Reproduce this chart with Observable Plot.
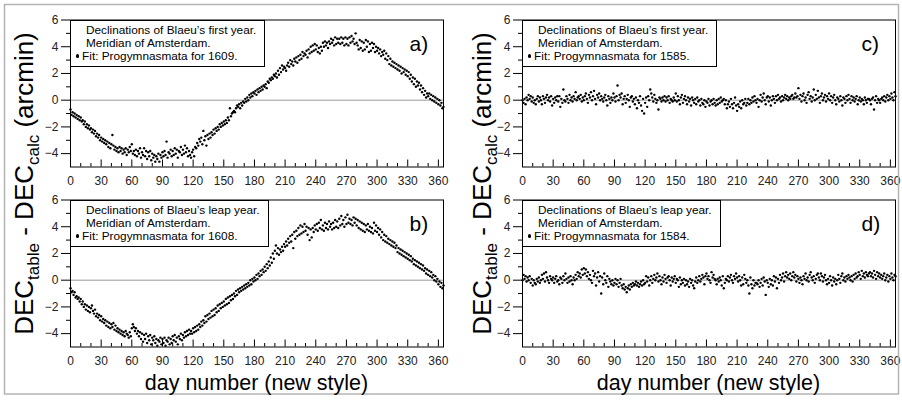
<!DOCTYPE html>
<html>
<head>
<meta charset="utf-8">
<script src="https://cdn.jsdelivr.net/npm/d3@7"></script>
<script src="https://cdn.jsdelivr.net/npm/@observablehq/plot@0.6"></script>
<style>
  body { margin: 0; background: #fff; }
  #chart { position: relative; width: 902px; height: 401px; font-family: "Liberation Sans", Arial, sans-serif; }
  #chart > svg.panel { position: absolute; }
  .legend { position: absolute; box-sizing: border-box; border: 1px solid #000; background: #fff;
            font-size: 11.8px; line-height: 13.3px; padding: 3px 8px 0 0; white-space: nowrap; color: #000; }
  .legend .l { padding-left: 15px; }
  .legend .b { padding-left: 4.5px; }
  .legend .dot { display: inline-block; width: 3.6px; height: 3.6px; border-radius: 50%; background: #000;
                 vertical-align: middle; margin-right: 3px; position: relative; top: -1px; }
  #overlay { position: absolute; left: 0; top: 0; pointer-events: none; }
</style>
</head>
<body>
<div id="chart"></div>
<script>
// ---- data (arcmin), one value per day 0..365 ----
const panelA = [
-0.7,-1.1,-0.9,-1.2,-1.0,-1.3,-1.1,-1.4,-1.2,-1.5,
-1.3,-1.6,-1.5,-1.8,-1.6,-2.0,-1.8,-2.1,-1.9,-2.2,
-2.1,-2.4,-2.2,-2.5,-2.3,-2.7,-2.5,-2.8,-2.6,-3.0,
-2.8,-3.1,-2.9,-3.2,-3.0,-3.3,-3.1,-3.5,-3.2,-3.6,
-3.3,-2.6,-3.4,-3.7,-3.5,-3.8,-3.6,-3.9,-3.5,-3.8,
-3.6,-4.0,-3.7,-3.9,-3.6,-4.1,-3.7,-3.9,-3.5,-3.8,
-3.3,-4.0,-3.8,-4.1,-3.7,-4.2,-3.8,-4.0,-3.6,-4.3,
-3.9,-4.1,-3.6,-4.2,-3.8,-4.4,-3.9,-4.2,-3.8,-4.5,
-4.0,-4.3,-4.1,-4.6,-4.2,-4.4,-4.0,-4.6,-4.1,-4.3,
-3.9,-4.2,-3.8,-4.1,-3.1,-4.3,-3.9,-4.0,-3.7,-4.2,
-3.8,-4.1,-3.6,-4.0,-3.7,-4.3,-3.8,-3.9,-3.5,-4.1,
-3.7,-4.0,-3.4,-3.9,-3.6,-4.2,-3.8,-4.1,-4.3,-3.9,
-3.7,-4.2,-3.5,-3.6,-3.2,-3.4,-2.9,-3.1,-2.8,-3.3,
-2.3,-3.0,-2.7,-3.4,-2.6,-2.9,-2.5,-2.8,-2.4,-2.6,
-2.2,-2.5,-2.1,-2.3,-2.0,-2.2,-1.8,-2.0,-1.7,-1.9,
-1.6,-1.8,-1.5,-1.7,-1.3,-1.5,-0.6,-1.2,-1.0,-0.9,
-0.8,-0.9,-0.6,-0.4,-0.5,-0.3,-0.6,-0.2,-0.4,-0.1,
-0.2,0.1,-0.1,0.2,0.0,0.4,0.2,0.5,0.3,0.6,
0.5,0.7,0.4,0.8,0.6,0.9,0.7,1.0,0.8,1.1,
1.0,1.2,0.9,1.4,1.3,1.6,1.5,1.7,1.6,1.9,
1.8,2.0,1.7,2.2,1.9,2.4,2.1,2.6,2.3,2.5,
2.4,2.2,2.6,2.8,2.5,3.0,2.7,2.9,2.6,3.1,
2.9,3.2,2.8,3.3,3.0,3.4,3.1,3.6,3.3,3.5,
3.4,3.7,3.2,3.8,3.5,4.0,3.6,4.1,3.7,4.2,
3.8,4.1,3.6,3.9,3.5,4.0,3.7,4.3,4.0,4.4,
4.1,4.3,3.9,4.4,4.2,4.6,4.3,4.5,4.1,4.7,
4.2,4.6,4.3,4.6,4.2,4.7,4.3,4.6,4.1,4.7,
4.2,4.6,4.1,4.7,4.3,4.8,4.4,4.6,4.2,5.0,
4.3,4.1,3.8,4.5,3.9,4.4,3.7,4.3,3.8,4.5,
4.0,4.4,3.6,4.2,3.7,4.3,3.9,4.2,3.6,4.0,
3.7,3.9,3.5,3.8,3.3,3.6,3.4,3.7,3.1,3.5,
3.0,3.3,2.7,3.1,2.6,2.9,2.5,2.8,2.4,2.7,
2.3,2.6,2.2,2.5,2.0,2.4,2.1,2.3,1.9,2.2,
1.8,2.1,1.6,1.9,1.4,1.7,1.2,1.6,1.0,1.4,
1.1,1.3,0.8,1.1,0.6,0.9,0.4,0.7,0.2,0.5,
0.3,0.5,0.1,0.4,0.0,0.3,-0.1,0.2,-0.2,0.1,
-0.3,0.0,-0.4,-0.2,-0.6,-0.5
];
const panelB = [
-0.6,-0.9,-0.8,-1.1,-0.9,-1.3,-1.2,-1.4,-1.3,-1.6,
-1.4,-1.8,-1.6,-2.0,-1.8,-2.2,-1.9,-2.3,-2.0,-2.4,
-2.1,-1.9,-2.3,-2.5,-2.2,-2.7,-2.5,-2.8,-2.6,-3.0,
-2.7,-3.1,-2.9,-3.2,-3.0,-3.4,-3.1,-3.5,-3.2,-3.6,
-3.3,-3.5,-3.2,-3.7,-3.4,-3.8,-3.6,-3.9,-3.7,-4.0,
-3.8,-4.1,-3.9,-4.2,-3.8,-4.0,-4.1,-4.3,-3.9,-4.2,
-3.6,-3.3,-3.5,-3.8,-3.6,-4.0,-3.8,-4.2,-3.9,-4.4,
-4.0,-4.6,-4.1,-4.4,-4.0,-4.7,-4.2,-4.5,-4.1,-4.8,
-4.3,-4.5,-4.2,-4.7,-4.4,-4.9,-4.5,-4.6,-4.3,-4.8,
-4.4,-4.7,-4.3,-4.9,-4.5,-4.6,-4.3,-4.8,-4.4,-4.7,
-4.2,-4.5,-4.1,-4.6,-4.3,-4.8,-4.2,-4.4,-4.0,-4.5,
-4.1,-4.3,-3.9,-4.2,-3.8,-4.1,-3.7,-4.0,-3.8,-4.0,
-3.6,-3.9,-3.5,-3.8,-3.4,-3.7,-3.3,-3.5,-3.1,-3.4,
-3.0,-3.2,-2.7,-3.1,-2.6,-2.9,-2.5,-2.8,-2.3,-2.7,
-2.2,-2.6,-2.1,-2.4,-1.9,-2.3,-1.8,-2.1,-1.7,-2.0,
-1.6,-1.9,-1.4,-1.8,-1.3,-1.7,-1.2,-1.5,-1.1,-1.4,
-1.0,-1.2,-0.8,-1.1,-0.7,-0.9,-0.6,-0.8,-0.5,-0.7,
-0.4,-0.6,-0.3,-0.5,-0.2,-0.4,0.0,-0.3,0.1,-0.1,
0.2,0.0,0.4,0.1,0.5,0.3,0.7,0.4,0.8,0.6,
1.0,0.7,1.2,0.9,1.4,1.1,1.7,1.3,2.0,1.6,
2.2,2.6,2.0,2.4,1.9,2.3,2.1,2.5,2.2,2.7,
2.5,2.9,2.6,3.1,2.8,3.3,2.9,3.4,2.4,3.6,
3.1,3.7,3.3,3.9,3.4,4.1,3.5,4.0,3.6,4.2,
3.7,4.0,3.4,3.9,3.0,3.8,3.2,3.9,3.6,4.1,
3.8,4.2,3.7,4.3,3.9,4.5,3.8,4.1,3.7,4.3,
3.9,4.2,3.8,4.4,4.0,4.2,3.8,4.3,3.9,4.5,
4.0,4.4,3.9,4.6,4.1,4.8,4.2,4.5,4.0,4.7,
4.2,4.9,4.3,4.6,4.2,4.5,4.1,4.7,4.3,4.6,
4.1,4.5,3.9,4.4,3.8,4.3,3.7,4.2,3.6,4.1,
3.8,4.2,3.7,4.0,3.6,3.9,3.5,4.3,3.7,4.1,
3.6,3.9,3.4,3.8,3.2,3.6,3.0,3.4,2.9,3.3,
2.8,3.1,2.7,3.0,2.6,2.9,2.5,2.8,2.4,2.6,
2.1,2.4,2.0,2.3,1.9,2.2,1.8,2.1,1.7,2.0,
1.6,1.9,1.5,1.8,1.4,1.6,1.2,1.5,1.1,1.4,
1.0,1.3,0.9,1.2,0.8,1.1,0.7,0.9,0.5,0.8,
0.4,0.7,0.3,0.6,0.2,0.4,0.0,0.3,-0.1,0.1,
-0.3,-0.1,-0.5,-0.2,-0.6,-0.4
];
const panelC = [
0.0,-0.2,0.1,-0.3,0.2,0.0,0.4,0.1,0.3,-0.1,
0.2,-0.2,0.0,-0.3,0.1,0.3,-0.1,0.2,0.0,-0.3,
0.3,0.1,-0.2,0.2,0.4,0.0,0.2,-0.1,0.3,-0.4,
0.1,-0.2,0.2,0.0,0.3,-0.1,0.3,-0.5,0.1,-0.2,
0.8,0.0,-0.1,0.3,0.1,-0.2,0.4,0.0,0.2,-0.1,
0.3,0.1,0.6,0.0,0.2,0.3,0.1,0.4,-0.1,0.2,
0.0,0.3,0.5,0.1,-0.2,0.4,0.2,0.6,0.0,0.3,
0.7,0.1,-0.3,0.4,0.2,0.5,0.0,0.3,0.1,-0.1,
0.2,0.4,0.0,-0.4,0.3,0.1,-0.2,0.2,0.0,0.5,
0.2,-0.1,0.3,1.1,0.0,0.4,0.2,0.5,-0.3,0.1,
0.3,-0.2,0.1,0.4,0.0,-0.5,0.2,0.3,-0.1,0.1,
-0.3,0.2,-0.6,0.0,-0.2,0.3,-0.4,-0.8,0.1,-1.0,
-0.2,0.2,-0.5,0.3,0.0,0.8,0.5,0.2,-0.1,0.4,
0.1,-0.2,0.0,-0.7,0.2,0.1,-0.1,0.2,0.0,0.3,
-0.1,0.2,0.0,0.3,-0.2,0.1,0.0,-0.1,0.2,0.0,
0.5,-0.1,0.3,0.0,-0.3,0.2,0.4,-0.2,0.1,0.3,
0.0,-0.3,0.2,-0.1,0.1,-0.4,0.2,0.0,-0.2,0.1,
-0.3,0.2,-0.1,0.0,-0.4,0.1,-0.2,-0.3,0.0,-0.5,
-0.1,-0.2,0.1,-0.4,-0.1,0.0,-0.3,0.1,-0.2,-0.4,
0.0,-0.3,0.1,-0.2,0.2,-0.1,0.0,0.1,-0.3,0.0,
-0.6,-0.3,-0.1,-0.5,0.1,-0.3,-0.6,-0.2,0.2,-0.4,
-0.8,-0.3,-0.5,-0.1,-0.6,0.0,-0.3,-0.2,0.1,-0.4,
-0.2,0.1,-0.3,0.0,-0.2,0.2,-0.1,0.3,0.0,-0.2,
0.1,-0.5,0.0,0.4,-0.1,0.2,0.5,0.0,-0.3,0.2,
0.3,-0.1,0.2,-0.4,0.0,0.3,0.1,-0.2,0.3,0.0,
0.4,0.1,0.2,-0.1,0.3,0.0,0.2,0.4,0.1,0.3,
0.0,0.2,0.1,0.3,0.4,0.1,0.2,0.5,0.2,0.3,
0.9,0.1,0.4,-0.1,0.3,0.5,0.0,0.2,-0.2,0.4,
0.6,0.1,0.3,-0.1,0.2,0.8,0.0,0.4,0.1,0.7,
0.2,-0.2,0.3,0.5,0.0,0.2,0.4,-0.1,0.3,0.1,
0.5,0.0,0.3,-0.2,0.2,0.4,0.0,-0.3,0.2,0.1,
-0.1,0.3,0.0,-0.4,0.2,0.1,-0.2,0.3,0.0,0.4,
0.1,-0.2,0.3,0.0,0.2,-0.1,0.1,0.3,-0.3,0.0,
0.2,-0.1,0.1,0.0,-0.3,0.2,0.0,-0.2,0.1,0.1,
0.0,-0.3,0.1,0.2,-0.7,0.0,0.3,-0.2,0.1,0.0,
-0.2,0.1,0.2,0.0,0.3,-0.1,0.2,0.4,0.0,0.3,
0.1,0.5,0.2,0.0,0.6,0.3
];
const panelD = [
0.0,0.4,0.1,0.3,-0.1,0.2,0.0,0.3,-0.2,0.1,
-0.4,0.0,-0.2,-0.3,0.1,-0.1,0.2,-0.2,0.0,0.4,
0.1,0.5,-0.1,0.6,0.2,0.0,-0.2,0.3,0.1,0.0,
0.2,-0.2,0.1,0.3,-0.1,0.0,-0.3,0.2,0.1,-0.2,
0.3,0.0,0.5,0.1,-0.2,0.2,-0.1,0.3,0.0,-0.3,
0.2,0.0,0.4,0.1,0.6,0.3,0.5,0.2,0.8,0.4,
0.9,0.5,0.8,0.3,0.6,0.1,0.4,0.0,-0.2,0.7,
0.3,0.5,-0.4,0.2,0.6,-0.1,0.3,-1.0,0.2,-0.3,
0.5,0.0,-0.2,0.3,-0.5,0.1,-0.1,-0.3,0.0,-0.4,
-0.2,0.1,-0.3,0.0,-0.5,-0.2,0.1,-0.4,-0.6,-0.3,
-0.7,-0.5,-0.9,-0.6,-0.4,-0.7,-0.3,-0.5,-0.2,-0.4,
-0.3,-0.1,-0.4,-0.2,-0.5,-0.3,-0.1,-0.4,0.0,-0.3,
-0.2,0.3,-0.1,0.2,-0.4,0.0,0.3,-0.2,0.1,0.4,
0.0,0.2,0.5,-0.1,0.3,0.0,-0.3,0.2,-0.1,0.4,
0.1,-0.2,0.2,0.3,0.0,-0.4,0.2,-0.1,0.1,0.3,
-0.2,0.1,0.0,-0.5,0.2,-0.3,0.0,-0.2,0.1,-0.4,
0.0,-0.3,-0.1,-0.5,0.1,-0.2,0.0,-0.4,-0.6,-0.1,
0.2,-0.2,0.0,0.3,-0.1,0.1,0.4,0.2,-0.3,0.3,
0.5,0.1,0.3,0.0,-0.2,0.6,0.2,0.4,0.1,0.0,
-0.3,0.1,-0.1,0.2,0.0,-0.4,0.3,-0.6,-0.2,0.1,
0.0,0.3,-0.1,0.2,0.4,0.0,-0.2,0.3,0.1,0.5,
0.2,-0.1,0.3,0.0,-0.4,0.2,-0.3,0.4,0.1,-0.2,
0.0,-0.4,-1.0,0.2,-0.3,-0.6,0.0,-0.4,-0.2,-0.2,
-0.3,0.0,-0.5,-0.2,0.1,-0.4,0.2,-0.1,-1.1,0.0,
-0.2,-0.5,0.1,-0.3,0.0,-0.4,0.3,-0.1,0.2,-0.6,
0.1,-0.2,0.4,0.0,0.2,0.5,-0.1,0.3,0.6,0.2,
0.4,0.1,0.5,0.0,0.3,0.6,0.2,0.4,-0.1,0.3,
0.1,-0.2,0.2,0.0,-0.3,0.3,0.1,0.5,0.0,0.2,
-0.1,0.4,0.6,0.2,0.0,0.3,-0.2,0.1,0.4,0.5,
0.2,0.0,0.5,0.3,-0.1,0.2,0.4,0.0,-0.3,0.1,
-0.2,0.3,0.0,-0.4,0.2,-0.1,0.1,-0.3,0.0,0.4,
0.1,-0.2,0.3,0.5,0.0,0.2,-0.1,0.3,0.1,0.4,
0.2,0.0,0.3,-0.1,0.4,0.1,0.5,0.2,0.3,0.6,
0.4,0.1,0.7,0.3,0.5,0.2,0.6,0.4,0.3,0.5,
0.6,0.3,0.5,0.2,0.7,0.4,0.1,0.6,0.3,0.5,
0.2,0.4,0.1,0.3,0.5,0.0,0.2,0.4,-0.1,0.3,
0.1,0.5,0.2,0.0,0.4,0.3
];

const xMajorTicks = [0, 30, 60, 90, 120, 150, 180, 210, 240, 270, 300, 330, 360];
const xMinorTicks = [10, 20, 40, 50, 70, 80, 100, 110, 130, 140, 160, 170, 190, 200, 220, 230, 250, 260, 280, 290, 310, 320, 340, 350];
const yMajorTicks = [-4, -2, 0, 2, 4, 6];
const yMinorTicks = [-3, -1, 1, 3, 5];

const panelLabels = ["a)", "b)", "c)", "d)"];
const legendLine1 = ["Declinations of Blaeu\u2019s first year.", "Declinations of Blaeu\u2019s leap year.",
                     "Declinations of Blaeu\u2019s first year.", "Declinations of Blaeu\u2019s leap year."];
const legendLine2 = "Meridian of Amsterdam.";
const fitYears = ["1609", "1608", "1585", "1584"];
const yTitle = {main1: "DEC", sub1: "table", mid: " - DEC", sub2: "calc", tail: " (arcmin)"};
const xTitle = "day number (new style)";

// ---- layout ----
const W = 451, H = 195, mL = 70, mR = 8, mT = 19.5, mB = 28.5;
const PH = H - mT - mB;
const positions = [[0, 0], [0, 180], [452, 0], [452, 180]];
const series = [panelA, panelB, panelC, panelD];

const chart = document.getElementById("chart");

series.forEach((vals, i) => {
  const data = vals.map((v, d) => ({day: d, v}));
  const [left, top] = positions[i];
  const p = Plot.plot({
    width: W, height: H,
    marginLeft: mL, marginRight: mR, marginTop: mT, marginBottom: mB,
    x: {domain: [0, 365], label: null},
    y: {domain: [-5, 6], label: null},
    style: {fontFamily: "'Liberation Sans', Arial, sans-serif", fontSize: "12px", color: "#000", background: "transparent", overflow: "visible"},
    marks: [
      Plot.ruleY([0], {stroke: "#9a9a9a", strokeWidth: 1}),
      Plot.dot(data, {x: "day", y: "v", r: 1.2, fill: "#000", stroke: "none"}),
      Plot.tickX(xMinorTicks, {x: d => d, insetTop: PH - 3.5, stroke: "#000"}),
      Plot.tickX(xMajorTicks, {x: d => d, insetTop: PH - 7, stroke: "#000"}),
      Plot.axisX({ticks: xMajorTicks, tickSize: 0, tickPadding: 9, fontSize: 12, fill: "#222"}),
      Plot.axisY({ticks: yMajorTicks, tickSize: 9, tickPadding: 3, fontSize: 12, fill: "#222"}),
      Plot.axisY({ticks: yMinorTicks, tickSize: 4, tickFormat: () => ""}),
      Plot.frame({stroke: "#000"}),
      Plot.text([panelLabels[i]], {frameAnchor: "top-right", text: d => d, dx: -34, dy: 24,
                                   textAnchor: "start", lineAnchor: "middle", fontSize: 21})
    ]
  });
  p.classList.add("panel");
  p.style.left = left + "px";
  p.style.top = top + "px";
  chart.appendChild(p);

  // legend box
  const lg = document.createElement("div");
  lg.className = "legend";
  lg.style.left = (left + mL) + "px";
  lg.style.top = (top + mT) + "px";
  lg.style.height = "47px";
  lg.innerHTML = `<div class="l">${legendLine1[i]}</div><div class="l">${legendLine2}</div>` +
                 `<div class="b"><span class="dot"></span>Fit: Progymnasmata for ${fitYears[i]}.</div>`;
  chart.appendChild(lg);
});

// ---- overlay: border and axis titles ----
const svg = d3.select("#chart").append("svg").attr("id", "overlay").attr("width", 902).attr("height", 401);
svg.append("rect").attr("x", 4.5).attr("y", 4.5).attr("width", 894).attr("height", 389.5)
  .attr("fill", "none").attr("stroke", "#b4b4b4").attr("stroke-width", 1.5);

[33, 491].forEach(x => {
  const t = svg.append("text")
    .attr("transform", `translate(${x},183.5) rotate(-90)`)
    .attr("text-anchor", "middle")
    .attr("font-family", "'Liberation Sans', Arial, sans-serif")
    .attr("font-size", 26).attr("fill", "#000");
  t.append("tspan").text(yTitle.main1);
  t.append("tspan").attr("font-size", 17).attr("dy", 6).text(yTitle.sub1);
  t.append("tspan").attr("dy", -6).text(yTitle.mid);
  t.append("tspan").attr("font-size", 17).attr("dy", 6).text(yTitle.sub2);
  t.append("tspan").attr("dy", -6).text(yTitle.tail);
});

[256.5, 708.5].forEach(x => {
  svg.append("text").attr("x", x).attr("y", 390)
    .attr("text-anchor", "middle")
    .attr("font-family", "'Liberation Sans', Arial, sans-serif")
    .attr("font-size", 21.5).attr("fill", "#000").text(xTitle);
});
</script>
</body>
</html>
